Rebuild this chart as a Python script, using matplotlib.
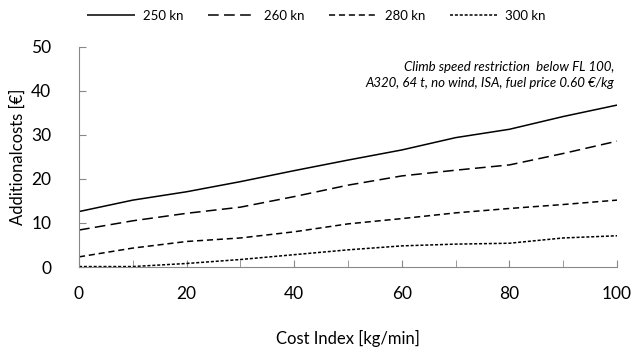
import matplotlib
matplotlib.use("Agg")
from matplotlib import pyplot as plt

# cost index [kg/min]
cost_index = [0, 10, 20, 30, 40, 50, 60, 70, 80, 90, 100]
# additional costs [€] per climb speed restriction
cost_250 = [12.6, 15.2, 17.1, 19.4, 21.9, 24.3, 26.6, 29.4, 31.3, 34.2, 36.8]
cost_260 = [8.4, 10.5, 12.2, 13.6, 16.0, 18.6, 20.7, 22.0, 23.2, 25.8, 28.6]
cost_280 = [2.3, 4.3, 5.8, 6.6, 8.0, 9.8, 11.0, 12.3, 13.3, 14.2, 15.2]
cost_300 = [0.1, 0.1, 0.8, 1.7, 2.8, 3.9, 4.8, 5.2, 5.4, 6.6, 7.1]
labels = ["250 kn", "260 kn", "280 kn", "300 kn"]

plt.rcParams['font.family'] = ['Lato', 'DejaVu Sans']

fig = plt.figure(figsize=(6.33, 3.56), dpi=100)
ax = fig.add_axes([0.1248, 0.25, 0.85, 0.618])

styles = [(0, ()), (0, (7, 3.5)), (0, (4, 2.5)), (0, (2, 1.2))]
series = [cost_250, cost_260, cost_280, cost_300]
for ys, lab, ls in zip(series, labels, styles):
    ax.plot(cost_index, ys, color="black", linewidth=1.1, linestyle=ls, label=lab)

ax.set_xlim(0, 100)
ax.set_ylim(0, 50)
ax.set_xticks(range(0, 101, 20))
ax.set_xticks(range(0, 101, 10), minor=True)
ax.set_yticks(range(0, 51, 10))
ax.tick_params(axis="both", which="both", direction="in", color="#888888", labelsize=12.5)
ax.tick_params(axis="x", which="both", length=5, pad=14)
ax.tick_params(axis="y", length=5, pad=20)
for s in ["top", "right"]:
    ax.spines[s].set_visible(False)
for s in ["left", "bottom"]:
    ax.spines[s].set_color("#888888")

ax.set_xlabel("Cost Index [kg/min]", fontsize=12, labelpad=20)
ax.set_ylabel("Additionalcosts [€]", fontsize=12, labelpad=4)

ax.text(0.995, 0.872, "Climb speed restriction  below FL 100,\nA320, 64 t, no wind, ISA, fuel price 0.60 €/kg",
        transform=ax.transAxes, ha="right", va="center", fontsize=9.5, style="italic", linespacing=1.45)

fig.legend(loc="center", bbox_to_anchor=(0.5, 0.955), ncol=4, frameon=False, fontsize=9.5,
           handlelength=3.6, columnspacing=1.9, handletextpad=0.6)

fig.savefig("out.png", dpi=100)
